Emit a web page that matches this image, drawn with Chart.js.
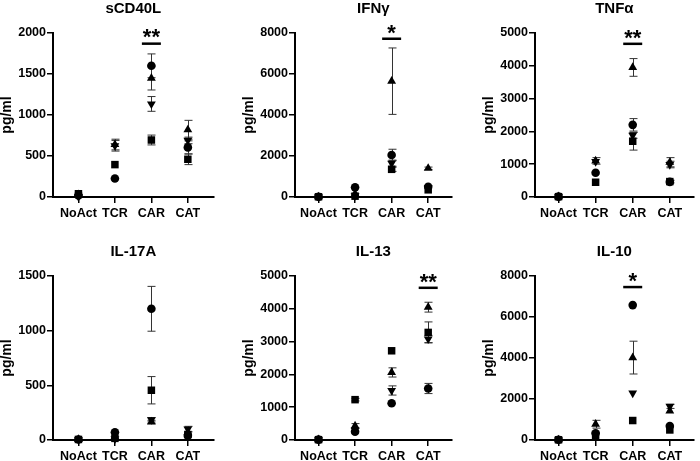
<!DOCTYPE html>
<html><head><meta charset="utf-8">
<script src="https://cdn.jsdelivr.net/npm/chart.js@4/dist/chart.umd.min.js"></script>
<style>
html,body{margin:0;padding:0;background:#fff;width:700px;height:461px;overflow:hidden;position:relative}
canvas{position:absolute}
</style></head><body>
<canvas id="c0"></canvas><canvas id="c1"></canvas><canvas id="c2"></canvas>
<canvas id="c3"></canvas><canvas id="c4"></canvas><canvas id="c5"></canvas>
<script>
// ---------- DATA ----------
const categories = ['NoAct', 'TCR', 'CAR', 'CAT'];
const titles = ['sCD40L', 'IFNγ', 'TNFα', 'IL-17A', 'IL-13', 'IL-10'];
const yMax = [2000, 8000, 5000, 1500, 5000, 8000];
const yStep = [500, 2000, 1000, 500, 1000, 2000];

// sCD40L
const sCD40L_circle = [20, 225, 1600, 605];
const sCD40L_circleErr = [0, 0, 145, 80];
const sCD40L_square = [40, 395, 695, 460];
const sCD40L_squareErr = [0, 0, 60, 65];
const sCD40L_triangle = [30, 640, 1450, 820];
const sCD40L_triangleErr = [0, 65, 145, 115];
const sCD40L_invTriangle = [5, 625, 1135, 690];
const sCD40L_invTriangleErr = [0, 65, 90, 40];
// IFNγ
const IFNg_circle = [10, 470, 2050, 500];
const IFNg_circleErr = [0, 0, 280, 0];
const IFNg_square = [10, 40, 1350, 350];
const IFNg_squareErr = [0, 0, 100, 0];
const IFNg_triangle = [10, 150, 5650, 1400];
const IFNg_triangleErr = [0, 0, 1620, 60];
const IFNg_invTriangle = [10, 60, 1650, 450];
const IFNg_invTriangleErr = [0, 0, 150, 0];
// TNFα
const TNFa_circle = [10, 740, 2200, 460];
const TNFa_circleErr = [0, 0, 190, 0];
const TNFa_square = [10, 450, 1700, 470];
const TNFa_squareErr = [0, 0, 270, 40];
const TNFa_triangle = [10, 1100, 3950, 1060];
const TNFa_triangleErr = [0, 100, 270, 140];
const TNFa_invTriangle = [10, 1080, 1880, 990];
const TNFa_invTriangleErr = [0, 0, 90, 100];
// IL-17A
const IL17A_circle = [5, 70, 1200, 40];
const IL17A_circleErr = [0, 0, 205, 0];
const IL17A_square = [5, 15, 455, 50];
const IL17A_squareErr = [0, 0, 125, 0];
const IL17A_triangle = [5, 30, 165, 70];
const IL17A_triangleErr = [0, 0, 15, 0];
const IL17A_invTriangle = [5, 10, 185, 100];
const IL17A_invTriangleErr = [0, 0, 20, 25];
// IL-13
const IL13_circle = [10, 255, 1120, 1570];
const IL13_circleErr = [0, 0, 0, 155];
const IL13_square = [10, 1230, 2720, 3280];
const IL13_squareErr = [0, 40, 0, 320];
const IL13_triangle = [10, 430, 2060, 4050];
const IL13_triangleErr = [0, 70, 140, 150];
const IL13_invTriangle = [10, 300, 1510, 3080];
const IL13_invTriangleErr = [0, 0, 140, 110];
// IL-10
const IL10_circle = [10, 330, 6580, 680];
const IL10_circleErr = [0, 0, 0, 0];
const IL10_square = [10, 160, 950, 490];
const IL10_squareErr = [0, 0, 0, 0];
const IL10_triangle = [10, 770, 4020, 1420];
const IL10_triangleErr = [0, 190, 800, 0];
const IL10_invTriangle = [10, 280, 2290, 1640];
const IL10_invTriangleErr = [0, 0, 0, 100];

// significance: [category index, line value, label]
const sigSCD40L = [2, 1870, '**'];
const sigIFNg = [2, 7720, '*'];
const sigTNFa = [2, 4670, '**'];
const sigIL17A = null;
const sigIL13 = [3, 4640, '**'];
const sigIL10 = [2, 7460, '*'];

// ---------- LAYOUT (positions, not data) ----------
const boxes = [
  {left: 0,   top: 0,   right: 219, xmin: -0.698, xmax: 3.709},
  {left: 242, top: 0,   right: 457, xmin: -0.643, xmax: 3.643},
  {left: 482, top: 0,   right: 699, xmin: -0.634, xmax: 3.644},
  {left: 0,   top: 243, right: 219, xmin: -0.698, xmax: 3.709},
  {left: 242, top: 243, right: 457, xmin: -0.643, xmax: 3.643},
  {left: 482, top: 243, right: 699, xmin: -0.634, xmax: 3.644}
];

const panelSeries = [
  [sCD40L_circle, sCD40L_circleErr, sCD40L_square, sCD40L_squareErr, sCD40L_triangle, sCD40L_triangleErr, sCD40L_invTriangle, sCD40L_invTriangleErr],
  [IFNg_circle, IFNg_circleErr, IFNg_square, IFNg_squareErr, IFNg_triangle, IFNg_triangleErr, IFNg_invTriangle, IFNg_invTriangleErr],
  [TNFa_circle, TNFa_circleErr, TNFa_square, TNFa_squareErr, TNFa_triangle, TNFa_triangleErr, TNFa_invTriangle, TNFa_invTriangleErr],
  [IL17A_circle, IL17A_circleErr, IL17A_square, IL17A_squareErr, IL17A_triangle, IL17A_triangleErr, IL17A_invTriangle, IL17A_invTriangleErr],
  [IL13_circle, IL13_circleErr, IL13_square, IL13_squareErr, IL13_triangle, IL13_triangleErr, IL13_invTriangle, IL13_invTriangleErr],
  [IL10_circle, IL10_circleErr, IL10_square, IL10_squareErr, IL10_triangle, IL10_triangleErr, IL10_invTriangle, IL10_invTriangleErr]
];
const panelSig = [sigSCD40L, sigIFNg, sigTNFa, sigIL17A, sigIL13, sigIL10];

const FONT = "'Liberation Sans', Arial, Helvetica, sans-serif";
const markerStyles = [
  {pointStyle: 'circle', radius: 4.3, rotation: 0},
  {pointStyle: 'rect', radius: 5.3, rotation: 0},
  {pointStyle: 'triangle', radius: 5.1, rotation: 0},
  {pointStyle: 'triangle', radius: 5.1, rotation: 180}
];

const errorBars = {
  id: 'errorBars',
  beforeDatasetsDraw(chart) {
    const {ctx} = chart; const x = chart.scales.x, y = chart.scales.y;
    ctx.save();
    ctx.strokeStyle = '#333'; ctx.lineWidth = 1;
    chart.data.datasets.forEach(ds => {
      ds.errors.forEach((e, i) => {
        if (!e) return;
        const v = ds.data[i].y;
        const px = Math.round(x.getPixelForValue(ds.data[i].x)) + 0.5;
        const yt = y.getPixelForValue(v + e);
        const yb = y.getPixelForValue(Math.max(v - e, 0));
        ctx.beginPath();
        ctx.moveTo(px, yt); ctx.lineTo(px, yb);
        ctx.moveTo(px - 4, yt); ctx.lineTo(px + 4, yt);
        ctx.moveTo(px - 4, yb); ctx.lineTo(px + 4, yb);
        ctx.stroke();
      });
    });
    ctx.restore();
  }
};

const sigMarks = {
  id: 'sigMarks',
  afterDatasetsDraw(chart, args, opts) {
    const s = opts.sig; if (!s) return;
    const {ctx} = chart; const x = chart.scales.x, y = chart.scales.y;
    const px = x.getPixelForValue(s[0]);
    const py = y.getPixelForValue(s[1]);
    ctx.save();
    ctx.strokeStyle = '#000'; ctx.lineWidth = 2.5;
    ctx.beginPath(); ctx.moveTo(px - 9.5, py); ctx.lineTo(px + 9.5, py); ctx.stroke();
    ctx.fillStyle = '#000';
    ctx.font = "bold 22px " + FONT;
    ctx.textAlign = 'center'; ctx.textBaseline = 'alphabetic';
    ctx.fillText(s[2], px, py - 11.5 + 12.3);
    ctx.restore();
  }
};

for (let p = 0; p < 6; p++) {
  const b = boxes[p];
  const cv = document.getElementById('c' + p);
  const W = b.right - b.left, H = 225;
  cv.width = W; cv.height = H;
  cv.style.left = b.left + 'px'; cv.style.top = b.top + 'px';
  cv.style.width = W + 'px'; cv.style.height = H + 'px';
  const ser = panelSeries[p];
  const datasets = markerStyles.map((m, k) => ({
    data: ser[2 * k].map((v, i) => ({x: i, y: v})),
    errors: ser[2 * k + 1],
    pointStyle: m.pointStyle,
    pointRadius: m.radius,
    rotation: m.rotation,
    backgroundColor: '#000',
    borderColor: '#000',
    borderWidth: 0,
    showLine: false,
    clip: false
  }));
  new Chart(cv, {
    type: 'scatter',
    data: {datasets},
    plugins: [errorBars, sigMarks],
    options: {
      responsive: false,
      animation: false,
      devicePixelRatio: 1,
      layout: {padding: 0},
      plugins: {
        legend: {display: false},
        tooltip: {enabled: false},
        title: {
          display: true, text: titles[p], color: '#000', fullSize: false,
          font: {family: FONT, size: 15, weight: 'bold', lineHeight: 1.2},
          padding: {top: 0, bottom: 15}
        },
        sigMarks: {sig: panelSig[p]}
      },
      scales: {
        x: {
          type: 'linear', min: b.xmin, max: b.xmax,
          afterBuildTicks: s => { s.ticks = categories.map((c, i) => ({value: i})); },
          afterFit: s => { s.height = 28; },
          ticks: {
            callback: v => categories[v], color: '#000', autoSkip: false, maxRotation: 0,
            padding: 3, font: {family: FONT, size: 12.5, weight: 'bold'}
          },
          grid: {drawOnChartArea: false, drawTicks: true, tickLength: 6, color: '#000', lineWidth: 1.5},
          border: {color: '#000', width: 2}
        },
        y: {
          min: 0, max: yMax[p],
          afterFit: s => { s.width = 53; },
          ticks: {
            stepSize: yStep[p], callback: v => String(v), color: '#000', padding: 1,
            font: {family: FONT, size: 12.5, weight: 'bold'}
          },
          grid: {drawOnChartArea: false, drawTicks: true, tickLength: 6, color: '#000', lineWidth: 1.5},
          border: {color: '#000', width: 2},
          title: {
            display: true, text: 'pg/ml', color: '#000', padding: 0,
            font: {family: FONT, size: 14, weight: 'bold', lineHeight: 1}
          }
        }
      }
    }
  });
}
</script>
</body></html>
